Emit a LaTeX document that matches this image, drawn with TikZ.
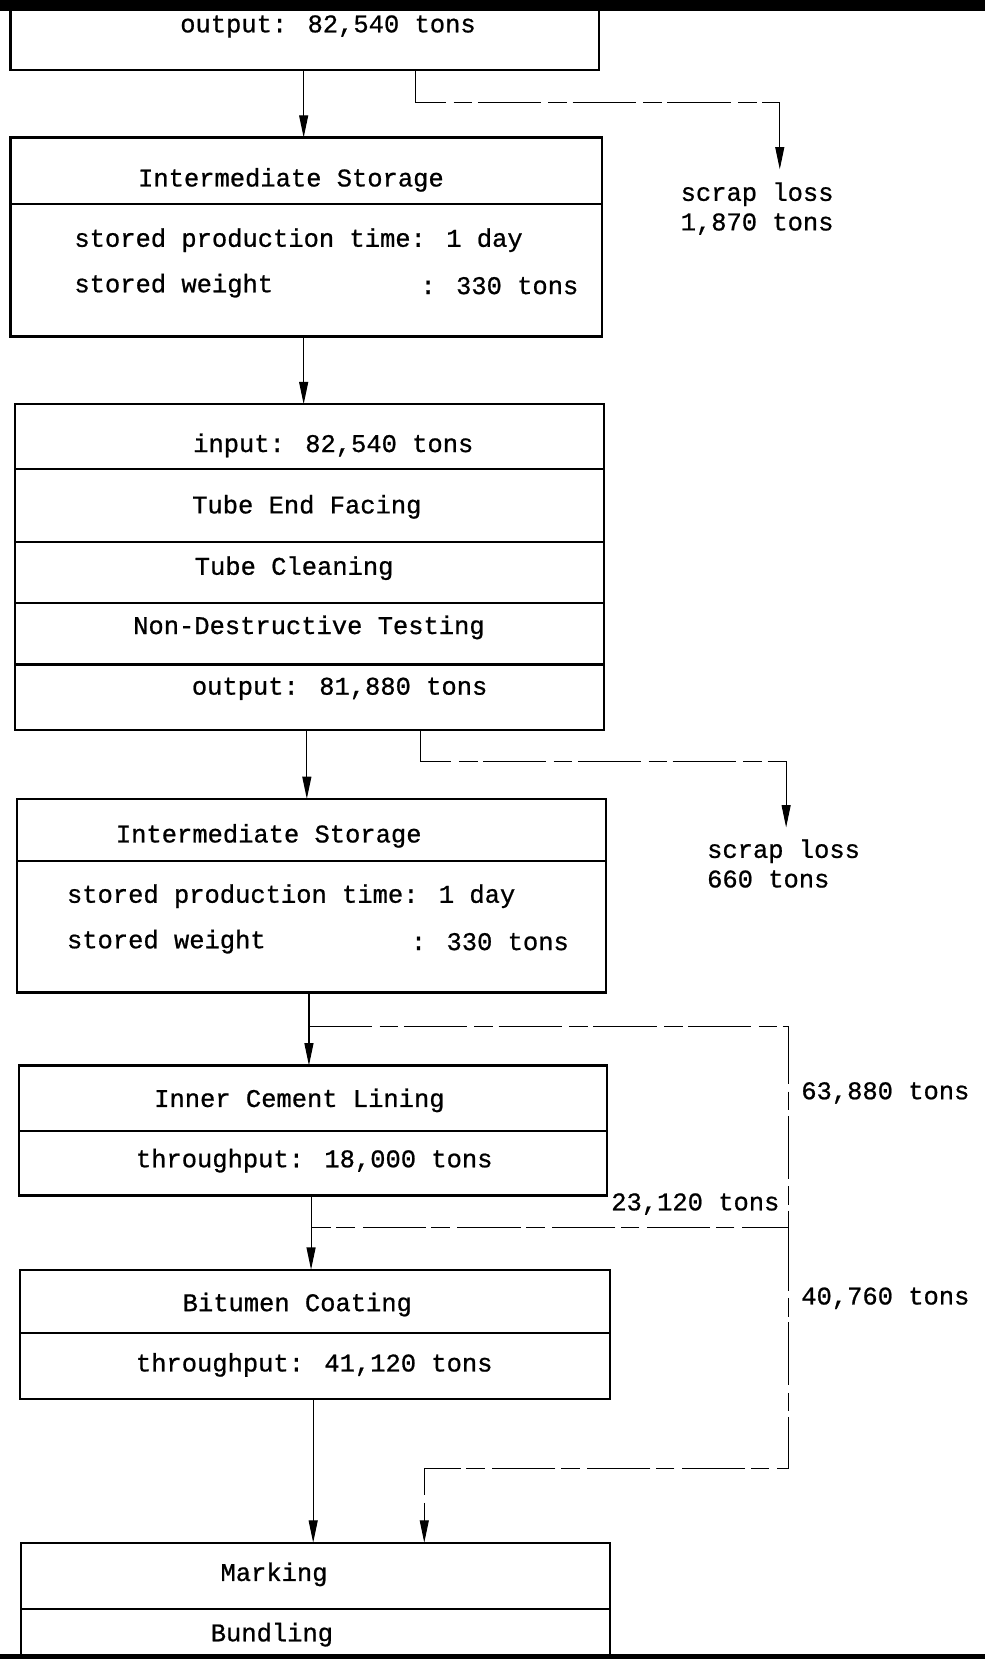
\documentclass[tikz,border=0pt]{standalone}
\usepackage{fontspec}
\newfontfamily\tw[FakeBold=0.8]{Liberation Mono}
\usetikzlibrary{arrows.meta}
\begin{document}
\begin{tikzpicture}[x=0.02cm,y=-0.02cm,
  cell/.style={draw, line width=1.2pt, anchor=north west, inner sep=0pt, outer sep=0pt},
  txt/.style={font=\tw\fontsize{13.7}{15.9}\selectfont, inner sep=0pt},
  conn/.style={line width=0.6pt},
  flow/.style={line width=0.5pt, dash pattern=on 34pt off 4pt on 10pt off 3pt},
  tip/.style={-{Triangle[length=0.42cm,width=0.17cm]}}]
\useasboundingbox (0,0) rectangle (931,1568);
% scan edges
\fill (0,0) rectangle (931,10);
\fill (0,1563) rectangle (931,1568);

% box 1 (partial)
\node[cell, minimum width=11.12cm, minimum height=1.16cm] (b1) at (10,8) {};
\node[txt] (b1t) at (310,25) {output: 82,540 tons};

% intermediate storage 1
\node[cell, minimum width=11.18cm, minimum height=1.26cm] (s1h) at (10,130) {};
\node[cell, minimum width=11.18cm, minimum height=2.50cm] (s1b) at (10,193) {};
\node[txt] (s1t) at (275,170) {Intermediate Storage};
\node[txt, anchor=west] (s1a) at (70,227) {stored production time: 1 day};
\node[txt, anchor=west] (s1c) at (70,270) {stored weight};
\node[txt, anchor=west] (s1d) at (397,270) {: 330 tons};

% processing block
\node[cell, minimum width=11.14cm, minimum height=1.22cm] (c3a) at (14,382) {};
\node[cell, minimum width=11.14cm, minimum height=1.38cm] (c3b) at (14,443) {};
\node[cell, minimum width=11.14cm, minimum height=1.16cm] (c3c) at (14,512) {};
\node[cell, minimum width=11.14cm, minimum height=1.16cm] (c3d) at (14,570) {};
\node[cell, minimum width=11.14cm, minimum height=1.24cm] (c3e) at (14,628) {};
\node[txt] (c3at) at (315,421) {input: 82,540 tons};
\node[txt] (c3bt) at (290,479) {Tube End Facing};
\node[txt] (c3ct) at (278,537) {Tube Cleaning};
\node[txt] (c3dt) at (292,593) {Non-Destructive Testing};
\node[txt] (c3et) at (321,651) {output: 81,880 tons};

% intermediate storage 2
\node[cell, minimum width=11.14cm, minimum height=1.18cm] (s2h) at (16,755) {};
\node[cell, minimum width=11.14cm, minimum height=2.48cm] (s2b) at (16,814) {};
\node[txt] (s2t) at (254,790) {Intermediate Storage};
\node[txt, anchor=west] (s2a) at (63,847) {stored production time: 1 day};
\node[txt, anchor=west] (s2c) at (63,890) {stored weight};
\node[txt, anchor=west] (s2d) at (388,890) {: 330 tons};

% inner cement lining
\node[cell, minimum width=11.12cm, minimum height=1.24cm] (c5h) at (18,1007) {};
\node[cell, minimum width=11.12cm, minimum height=1.22cm] (c5b) at (18,1069) {};
\node[txt] (c5t) at (283,1040) {Inner Cement Lining};
\node[txt] (c5u) at (297,1097) {throughput: 18,000 tons};

% bitumen coating
\node[cell, minimum width=11.16cm, minimum height=1.20cm] (c6h) at (19,1200) {};
\node[cell, minimum width=11.16cm, minimum height=1.24cm] (c6b) at (19,1260) {};
\node[txt] (c6t) at (281,1233) {Bitumen Coating};
\node[txt] (c6u) at (297,1290) {throughput: 41,120 tons};

% marking / bundling
\node[cell, minimum width=11.14cm, minimum height=1.26cm] (b7h) at (20,1458) {};
\node[cell, minimum width=11.14cm, minimum height=0.90cm] (b7b) at (20,1521) {};
\node[txt] (b7t) at (259,1488) {Marking};
\node[txt] (b7u) at (257,1545) {Bundling};

% scrap labels
\node[txt, anchor=north west, align=left] (sl1) at (643,172) {scrap loss\\1,870 tons};
\node[txt, anchor=north west, align=left] (sl2) at (668,793) {scrap loss\\660 tons};

% flow labels
\node[txt, anchor=west] (l1) at (757,1033) {63,880 tons};
\node[txt, anchor=east] (l2) at (737,1138) {23,120 tons};
\node[txt, anchor=west] (l3) at (757,1227) {40,760 tons};

% column coordinates
\coordinate (k1) at (287,0);
\coordinate (k2) at (393,0);
\coordinate (k3) at (397,0);
\coordinate (k4) at (290,0);
\coordinate (k5) at (292,0);
\coordinate (k6) at (294,0);
\coordinate (k7) at (296,0);
\coordinate (t1) at (737,97);
\coordinate (t2) at (743,720);
\coordinate (j1) at (292,970);
\coordinate (r1) at (745,970);
\coordinate (r2) at (745,1160);
\coordinate (j2) at (294,1160);
\coordinate (r3) at (745,1388);
\coordinate (m1) at (401,1388);

% main connectors
\draw[conn,tip] (k1 |- b1.south) -- (k1 |- s1h.north);
\draw[conn,tip] (k1 |- s1b.south) -- (k1 |- c3a.north);
\draw[conn,tip] (k4 |- c3e.south) -- (k4 |- s2h.north);
\draw[conn,tip] (k5 |- s2b.south) -- (k5 |- c5h.north);
\draw[conn,tip] (k6 |- c5b.south) -- (k6 |- c6h.north);
\draw[conn,tip] (k7 |- c6b.south) -- (k7 |- b7h.north);

% scrap branches
\draw[flow,tip,shorten >=0.24cm] (k2 |- b1.south) |- (t1) -- (t1 |- sl1.north);
\draw[flow,tip,shorten >=0.22cm] (k3 |- c3e.south) |- (t2) -- (t2 |- sl2.north);

% bypass branches
\draw[flow] (j1) -- (r1) -- (r2) -- (j2);
\draw[flow,tip] (r2) -- (r3) -- (m1) -- (m1 |- b7h.north);
\end{tikzpicture}
\end{document}
